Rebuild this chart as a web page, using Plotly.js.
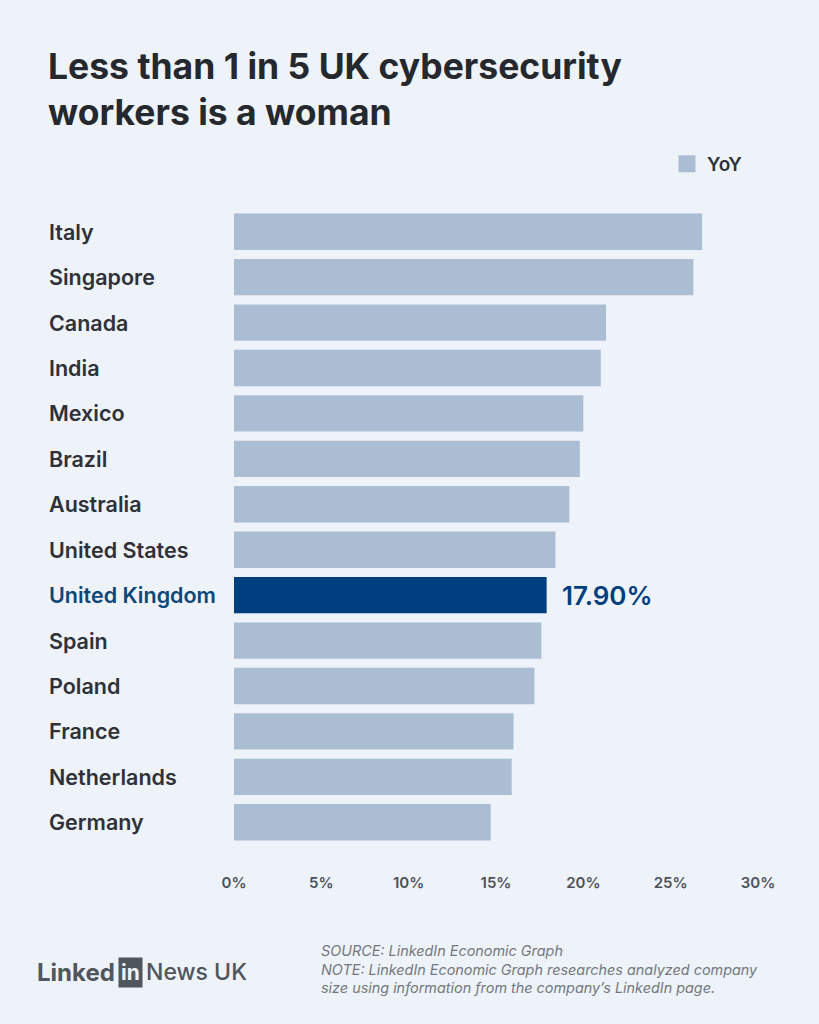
<!DOCTYPE html>
<html>
<head>
<meta charset="utf-8">
<script src="https://cdn.plot.ly/plotly-3.0.1.min.js"></script>
<style>
html,body{margin:0;padding:0;background:#eef2f9;}
#chart{width:819px;height:1024px;}
</style>
</head>
<body>
<div id="chart"></div>
<script>
const countries = ["Italy","Singapore","Canada","India","Mexico","Brazil","Australia","United States","United Kingdom","Spain","Poland","France","Netherlands","Germany"];
const shares = [26.8, 26.3, 21.3, 21.0, 20.0, 19.8, 19.2, 18.4, 17.9, 17.6, 17.2, 16.0, 15.9, 14.7];
const highlight = "United Kingdom";
const tickValues = [0, 5, 10, 15, 20, 25, 30];
const tickLabels = ["0%", "5%", "10%", "15%", "20%", "25%", "30%"];
const seriesName = "YoY";
const titleText = "Less than 1 in 5 UK cybersecurity<br>workers is a woman";
const sourceLines = ["SOURCE: LinkedIn Economic Graph", "NOTE: LinkedIn Economic Graph researches analyzed company", "size using information from the company’s LinkedIn page."];

const BG = "#eef2f9";
const BAR = "#abbdd3";
const HI = "#003f7f";
const LABEL = "#2e3137";
const FONT = "Inter, 'Noto Sans', sans-serif";

const colors = countries.map(c => c === highlight ? HI : BAR);
const hiIndex = countries.indexOf(highlight);

const trace = {
  type: "bar",
  orientation: "h",
  y: countries,
  x: shares,
  name: seriesName,
  marker: {color: colors},
  hoverinfo: "skip",
  showlegend: false
};
const legendTrace = {
  type: "bar", orientation: "h", x: [null], y: [countries[0]],
  name: seriesName, marker: {color: BAR, line: {color: BAR, width: 5}},
  showlegend: true, hoverinfo: "skip"
};

const PH = 636, PW = 524, L = 234, BOT = 845;
const annotations = countries.map(c => ({
  xref: "paper", yref: "y", x: (47 - L) / PW, y: c,
  xanchor: "left", yanchor: "middle", showarrow: false,
  text: c,
  font: {family: FONT, size: 21.5, weight: 600, color: c === highlight ? "#0d4779" : LABEL}
}));

// value label for highlighted bar
annotations.push({
  xref: "x", yref: "y", x: shares[hiIndex], y: highlight,
  xanchor: "left", yanchor: "middle", xshift: 13, showarrow: false,
  text: shares[hiIndex].toFixed(2) + "%",
  font: {family: FONT, size: 26, weight: 600, color: HI}
});

annotations.push({
  xref: "paper", yref: "paper", x: (319 - L) / PW, y: -(940 - BOT) / PH,
  xanchor: "left", yanchor: "top", showarrow: false, align: "left",
  text: "<i>" + sourceLines.join("<br>") + "</i>",
  font: {family: FONT, size: 14.4, color: "#73787e"}
});

// LinkedIn News UK wordmark
const LOGO_Y = -(972 - BOT) / PH;
annotations.push({
  xref: "paper", yref: "paper", x: (35 - L) / PW, y: LOGO_Y,
  xanchor: "left", yanchor: "middle", showarrow: false,
  text: "Linked", font: {family: FONT, size: 24, weight: 700, color: "#50565d"}
});
annotations.push({
  xref: "paper", yref: "paper", x: (130 - L) / PW, y: LOGO_Y,
  xanchor: "center", yanchor: "middle", showarrow: false,
  text: "in", bgcolor: "#50565d", borderpad: 2,
  font: {family: FONT, size: 21, weight: 700, color: BG}
});
annotations.push({
  xref: "paper", yref: "paper", x: (144 - L) / PW, y: LOGO_Y,
  xanchor: "left", yanchor: "middle", showarrow: false,
  text: "News UK", font: {family: FONT, size: 23, weight: 500, color: "#50565d"}
});

const layout = {
  width: 819, height: 1024,
  paper_bgcolor: BG, plot_bgcolor: BG,
  margin: {l: L, r: 61, t: 209, b: 179},
  font: {family: FONT},
  barmode: "overlay",
  title: {
    text: titleText,
    xref: "container", yref: "container",
    x: 48 / 819, xanchor: "left",
    y: 1 - 79 / 1024, yanchor: "top",
    font: {family: FONT, size: 35.5, weight: 700, color: "#25282d"}
  },
  bargap: 0.2,
  xaxis: {
    range: [0, 30], tickvals: tickValues, ticktext: tickLabels,
    showgrid: false, zeroline: false, showline: false,
    ticks: "", ticklabelstandoff: 27,
    tickfont: {family: FONT, size: 15, weight: 600, color: "#4d5259"},
    fixedrange: true
  },
  yaxis: {
    autorange: "reversed", showticklabels: false, ticks: "",
    showgrid: false, zeroline: false, showline: false, fixedrange: true
  },
  showlegend: true,
  legend: {
    x: 1 - 10 / PW, xanchor: "right", y: 1 + (209 - 145) / PH, yanchor: "top",
    bgcolor: "rgba(0,0,0,0)",
    font: {family: FONT, size: 19, weight: 600, color: LABEL},
    itemwidth: 30
  },
  annotations: annotations
};

Plotly.newPlot("chart", [trace, legendTrace], layout, {displayModeBar: false, staticPlot: true});
</script>
</body>
</html>
